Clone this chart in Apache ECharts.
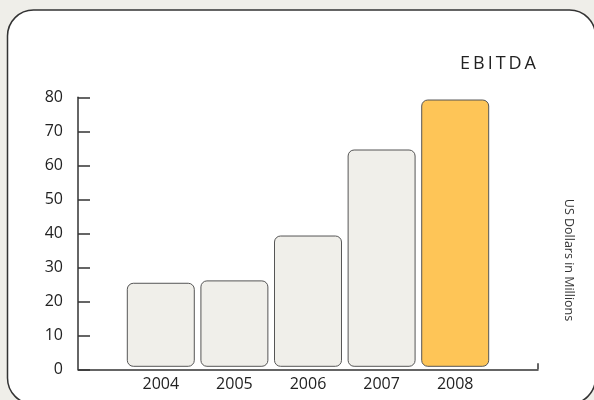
<!DOCTYPE html>
<html>
<head>
<meta charset="utf-8">
<script src="https://cdn.jsdelivr.net/npm/echarts@6/dist/echarts.min.js"></script>
<style>
  html, body { margin: 0; padding: 0; background: #efeee9; }
  #chart { width: 594px; height: 400px; }
</style>
</head>
<body>
<div id="chart"></div>
<script>
// EBITDA, US dollars in millions
const years = ['2004', '2005', '2006', '2007', '2008']
const ebitda = [25.3, 26.0, 39.2, 64.5, 79.2]
const yTicks = [0, 10, 20, 30, 40, 50, 60, 70, 80]
const highlightYear = '2008'

const fontFamily = '"Open Sans", "Noto Sans", sans-serif'
const barFill = '#f0efea'
const barHighlight = '#fec557'

const chart = echarts.init(document.getElementById('chart'))

chart.setOption({
  backgroundColor: '#efeee9',
  animation: false,
  title: {
    text: 'E\u2009B\u2009I\u2009T\u2009D\u2009A',
    right: 53,
    top: 50,
    textStyle: {
      fontFamily,
      fontSize: 18,
      fontWeight: 'normal',
      color: '#222'
    }
  },
  graphic: [
    {
      // white rounded panel behind the plot
      type: 'rect',
      z: -10,
      silent: true,
      shape: { x: 7.5, y: 10, width: 588, height: 394, r: 26 },
      style: { fill: '#fff', stroke: '#333', lineWidth: 1.5 }
    },
    {
      type: 'text',
      x: 569,
      y: 260,
      rotation: -Math.PI / 2,
      silent: true,
      style: {
        text: 'US Dollars in Millions',
        fontFamily,
        fontSize: 12.5,
        fill: '#333',
        align: 'center',
        verticalAlign: 'middle'
      }
    }
  ],
  grid: {
    left: 78,
    right: 56,
    top: 97.3,
    bottom: 30.7
  },
  xAxis: {
    type: 'value',
    min: -1.125,
    max: 5.125,
    splitLine: { show: false },
    axisLine: { show: true, onZero: false, lineStyle: { color: '#333', width: 1.5 } },
    axisTick: {
      show: true,
      inside: true,
      length: 6,
      customValues: [5.125],
      lineStyle: { color: '#333', width: 1.5 }
    },
    axisLabel: {
      customValues: years.map((y, i) => i),
      formatter: v => years[v],
      margin: 7,
      fontFamily,
      fontSize: 16,
      color: '#222'
    }
  },
  yAxis: {
    type: 'value',
    min: yTicks[0],
    max: yTicks[yTicks.length - 1],
    interval: 10,
    splitLine: { show: false },
    axisLine: { show: true, onZero: false, lineStyle: { color: '#333', width: 1.5 } },
    axisTick: {
      show: true,
      inside: true,
      length: 12,
      lineStyle: { color: '#333', width: 1.5 }
    },
    axisLabel: {
      margin: 15,
      fontFamily,
      fontSize: 16,
      color: '#222'
    }
  },
  series: [{
    name: 'EBITDA',
    type: 'custom',
    data: ebitda.map((v, i) => [i, v]),
    renderItem(params, api) {
      const i = api.value(0)
      const top = api.coord([i, api.value(1)])
      const base = api.coord([i, 0])
      const w = api.size([1, 0])[0] * 0.91
      return {
        type: 'rect',
        shape: {
          x: top[0] - w / 2,
          y: top[1],
          width: w,
          height: base[1] - 3 - top[1],
          r: 6
        },
        style: {
          fill: years[i] === highlightYear ? barHighlight : barFill,
          stroke: '#555',
          lineWidth: 1
        }
      }
    }
  }]
})
</script>
</body>
</html>
